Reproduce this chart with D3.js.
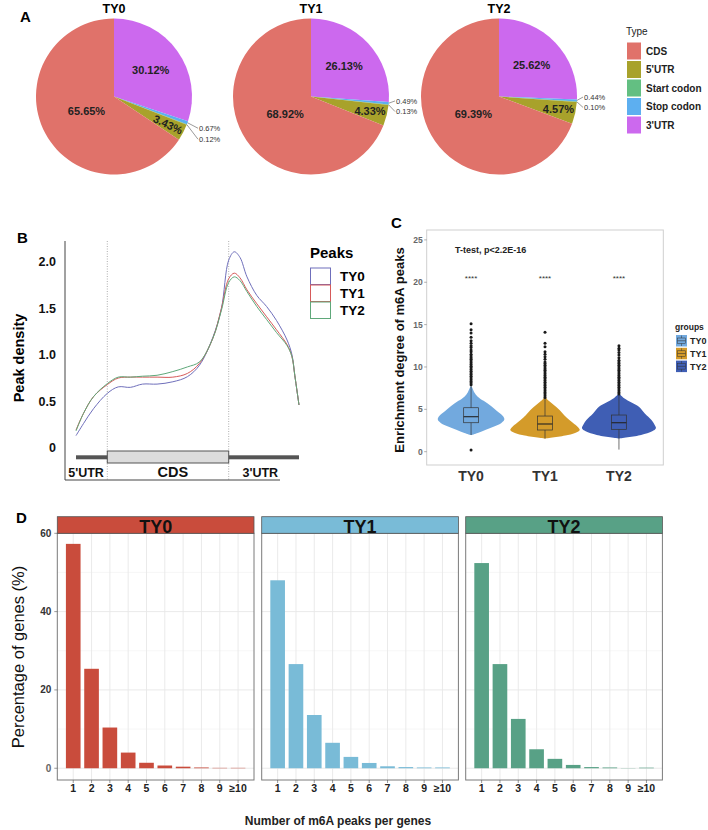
<!DOCTYPE html>
<html>
<head>
<meta charset="utf-8">
<script src="https://cdn.jsdelivr.net/npm/d3@7"></script>
<style>
body { margin: 0; background: #fff; }
svg { display: block; font-family: "Liberation Sans", Arial, sans-serif; }
</style>
</head>
<body>
<svg width="708" height="830"></svg>
<script>
// ---- panel A: peak distribution over transcript features
var pieGroups = ["TY0", "TY1", "TY2"];
var pieTypes = ["CDS", "5'UTR", "Start codon", "Stop codon", "3'UTR"];
var pieColors = ["#e0726a", "#a8a22b", "#63bf82", "#5daff0", "#cc69ee"];
var pieTY0 = [65.65, 3.43, 0.12, 0.67, 30.12];
var pieTY1 = [68.92, 4.33, 0.13, 0.49, 26.13];
var pieTY2 = [69.39, 4.57, 0.10, 0.44, 25.62];

// ---- panel B: metagene density (0-1 5'UTR, 1-2 CDS, 2-3 3'UTR)
var peakSeries = ["TY0", "TY1", "TY2"];
var peakColors = ["#6f6fbb", "#d65a5a", "#5fa87a"];
var metaPos = [0, 0.24, 0.56, 1.0, 1.09, 1.19, 1.29, 1.41, 1.54, 1.66, 1.76, 1.87, 1.94,
               2.0, 2.08, 2.16, 2.26, 2.40, 2.54, 2.68, 2.83, 2.90, 2.94, 3.0];
var densTY0 = [0.13, 0.26, 0.42, 0.585, 0.655, 0.65, 0.685, 0.685, 0.71, 0.765, 0.89, 1.19, 1.50,
               2.02, 2.11, 2.05, 1.84, 1.64, 1.52, 1.37, 1.16, 1.00, 0.78, 0.46];
var densTY1 = [0.19, 0.37, 0.55, 0.68, 0.75, 0.76, 0.76, 0.76, 0.76, 0.80, 0.91, 1.18, 1.50,
               1.82, 1.88, 1.83, 1.70, 1.55, 1.41, 1.27, 1.11, 0.98, 0.78, 0.46];
var densTY2 = [0.18, 0.37, 0.55, 0.69, 0.76, 0.76, 0.77, 0.78, 0.82, 0.87, 0.925, 1.18, 1.48,
               1.78, 1.84, 1.80, 1.68, 1.52, 1.38, 1.24, 1.10, 0.98, 0.78, 0.46];
var regionNames = ["5'UTR", "CDS", "3'UTR"];

// ---- panel C: enrichment violins  ([value, half width as share of group step])
var violinGroups = ["TY0", "TY1", "TY2"];
var violinColors = ["#72a9de", "#d49b2a", "#3f5eb4"];
var violinTY0 = [[1.95, 0], [2.2, 0.09], [2.6, 0.2], [3.0, 0.32], [3.4, 0.41], [3.8, 0.45], [4.2, 0.43],
                 [4.8, 0.35], [5.4, 0.27], [6.0, 0.17], [6.5, 0.09], [7.0, 0.045], [7.7, 0.01]];
var violinTY1 = [[1.55, 0], [1.97, 0.31], [2.3, 0.43], [2.56, 0.47], [2.95, 0.44], [3.4, 0.38],
                 [3.74, 0.33], [4.3, 0.26], [4.9, 0.2], [5.5, 0.12], [6.0, 0.05], [6.4, 0.01]];
var violinTY2 = [[1.55, 0], [1.97, 0.3], [2.4, 0.45], [2.76, 0.5], [3.2, 0.48], [3.74, 0.44],
                 [4.5, 0.35], [5.3, 0.27], [5.8, 0.17], [6.3, 0.07], [6.8, 0.01]];
var boxLow = [1.97, 1.55, 0.25];
var boxQ1 = [3.42, 2.56, 2.64];
var boxMed = [4.13, 3.27, 3.42];
var boxQ3 = [5.19, 4.21, 4.33];
var boxHigh = [7.8, 6.35, 6.75];
var outTY0 = [0.2, 7.9, 8.1, 8.3, 8.5, 8.7, 8.9, 9.1, 9.3, 9.5, 9.7, 9.9, 10.1, 10.3, 10.5, 10.7, 10.9,
              11.1, 11.3, 11.5, 11.8, 12.0, 12.3, 12.5, 12.8, 13.1, 13.5, 14.0, 14.4, 15.1];
var outTY1 = [6.4, 6.6, 6.8, 7.0, 7.2, 7.4, 7.6, 7.8, 8.0, 8.2, 8.4, 8.6, 8.8, 9.0, 9.2, 9.4, 9.6, 9.8,
              10.0, 10.2, 10.4, 10.6, 10.9, 11.2, 11.5, 11.8, 12.4, 12.8, 14.1];
var outTY2 = [6.8, 7.0, 7.2, 7.4, 7.6, 7.8, 8.0, 8.2, 8.4, 8.6, 8.8, 9.0, 9.2, 9.4, 9.6, 9.8, 10.0,
              10.2, 10.4, 10.6, 10.8, 11.1, 11.4, 11.7, 12.0, 12.2, 12.5];
var cTicks = [0, 5, 10, 15, 20, 25];

// ---- panel D: number of peaks per gene
var peakCats = ["1", "2", "3", "4", "5", "6", "7", "8", "9", "\u226510"];
var facetNames = ["TY0", "TY1", "TY2"];
var facetColors = ["#c94c3c", "#79bbd7", "#58a186"];
var pctTY0 = [57.3, 25.4, 10.4, 4.0, 1.4, 0.7, 0.4, 0.2, 0.1, 0.1];
var pctTY1 = [48.0, 26.6, 13.6, 6.5, 2.9, 1.35, 0.5, 0.3, 0.2, 0.2];
var pctTY2 = [52.4, 26.6, 12.6, 4.85, 2.4, 0.85, 0.3, 0.2, 0.05, 0.15];
var dTicks = [0, 20, 40, 60];

var svg = d3.select("svg");

function panelLabel(t, x, y) {
  svg.append("text").attr("x", x).attr("y", y)
    .attr("font-size", 15).attr("font-weight", "bold").text(t);
}

// ================= A =================
panelLabel("A", 20, 22);
var pieData = [pieTY0, pieTY1, pieTY2];
var pieCx = [114, 311, 499], pieCy = 96.5, pieR = 78;
var pie = d3.pie().sort(null).value(function(d) { return d.value; });
var arc = d3.arc().innerRadius(0).outerRadius(pieR);

pieGroups.forEach(function(g, gi) {
  // ggplot polar order: last level starts at 12 o'clock going clockwise
  var slices = pieTypes.map(function(t, i) {
    return {type: t, value: pieData[gi][i], color: pieColors[i]};
  }).reverse();
  var arcs = pie(slices);
  var gg = svg.append("g").attr("transform", "translate(" + pieCx[gi] + "," + pieCy + ")");

  gg.selectAll("path").data(arcs).enter().append("path")
    .attr("d", arc)
    .attr("fill", function(d) { return d.data.color; });

  svg.append("text").attr("x", pieCx[gi]).attr("y", 13)
    .attr("text-anchor", "middle").attr("font-size", 12.5).attr("font-weight", "bold").text(g);

  var labelR = {"CDS": 0.4, "5'UTR": 0.78, "3'UTR": 0.58};
  arcs.filter(function(d) { return d.data.value >= 1; }).forEach(function(d) {
    var a = (d.startAngle + d.endAngle) / 2, rr = pieR * labelR[d.data.type];
    var x = Math.sin(a) * rr, y = -Math.cos(a) * rr;
    gg.append("text")
      .attr("transform", "translate(" + x + "," + y + ")" + (d.data.value < 4 ? " rotate(25)" : ""))
      .attr("dy", "0.35em").attr("text-anchor", "middle")
      .attr("font-size", 11).attr("font-weight", "bold").attr("fill", "#222")
      .text(d.data.value.toFixed(2) + "%");
  });

  arcs.filter(function(d) { return d.data.value < 1; }).forEach(function(d, k) {
    var a = (d.startAngle + d.endAngle) / 2;
    var px = Math.sin(a) * pieR, py = -Math.cos(a) * pieR;
    var lx = pieR + 7, ly = py * 1.4 - 5 + k * 8.5;
    gg.append("line").attr("x1", px).attr("y1", py).attr("x2", lx - 1).attr("y2", ly)
      .attr("stroke", "#555").attr("stroke-width", 0.6);
    gg.append("text").attr("x", lx).attr("y", ly).attr("dy", "0.35em")
      .attr("font-size", 7.5).attr("fill", "#333")
      .text(d.data.value.toFixed(2) + "%");
  });
});

var legA = svg.append("g").attr("transform", "translate(626,0)");
legA.append("text").attr("x", 0).attr("y", 35).attr("font-size", 10).attr("fill", "#222").text("Type");
pieTypes.forEach(function(t, i) {
  var cy = 51 + i * 18.5;
  legA.append("rect").attr("x", 1).attr("y", cy - 8.5).attr("width", 14).attr("height", 17)
    .attr("fill", pieColors[i]);
  legA.append("text").attr("x", 20).attr("y", cy).attr("dy", "0.35em")
    .attr("font-size", 10).attr("font-weight", "bold").attr("fill", "#222").text(t);
});

// ================= B =================
panelLabel("B", 17, 243);
var bx = d3.scaleLinear().domain([0, 1, 2, 3]).range([76, 107.3, 228.7, 299]);
var by = d3.scaleLinear().domain([0, 2]).range([447.7, 262]);
var bTop = 241, bBottom = 480, bLeft = 65;

[1, 2].forEach(function(v) {
  svg.append("line").attr("x1", bx(v)).attr("x2", bx(v)).attr("y1", bTop).attr("y2", bBottom)
    .attr("stroke", "#999").attr("stroke-width", 0.8).attr("stroke-dasharray", "1,1.5");
});
svg.append("line").attr("x1", bLeft).attr("x2", bLeft).attr("y1", bTop).attr("y2", bBottom)
  .attr("stroke", "#444").attr("stroke-width", 1);
svg.append("line").attr("x1", bLeft).attr("x2", 280).attr("y1", bBottom).attr("y2", bBottom)
  .attr("stroke", "#444").attr("stroke-width", 1);

[0, 0.5, 1.0, 1.5, 2.0].forEach(function(t) {
  svg.append("text").attr("x", 56).attr("y", by(t)).attr("dy", "0.35em")
    .attr("text-anchor", "end").attr("font-size", 12.5).attr("font-weight", "bold").attr("fill", "#111")
    .text(t === 0 ? "0" : t.toFixed(1));
});
svg.append("text").attr("transform", "translate(24,358) rotate(-90)")
  .attr("text-anchor", "middle").attr("font-size", 14.5).attr("font-weight", "bold").text("Peak density");

var bLine = d3.line()
  .curve(d3.curveCatmullRom.alpha(0.5))
  .x(function(d, i) { return bx(metaPos[i]); })
  .y(function(d) { return by(d); });
[densTY0, densTY1, densTY2].forEach(function(s, i) {
  svg.append("path").datum(s)
    .attr("fill", "none").attr("stroke", peakColors[i]).attr("stroke-width", 1)
    .attr("d", bLine);
});

// gene model
svg.append("rect").attr("x", bx(0)).attr("y", 455.3).attr("width", bx(3) - bx(0)).attr("height", 4)
  .attr("fill", "#555");
svg.append("rect").attr("x", bx(1)).attr("y", 451).attr("width", bx(2) - bx(1)).attr("height", 12)
  .attr("fill", "#dcdcdc").attr("stroke", "#555").attr("stroke-width", 1);
var regionAt = [0.32, 1.54, 2.45];
regionNames.forEach(function(n, i) {
  svg.append("text").attr("x", bx(regionAt[i])).attr("y", 477)
    .attr("text-anchor", "middle").attr("font-weight", "bold")
    .attr("font-size", n === "CDS" ? 14.5 : 12.5).attr("fill", "#111").text(n);
});

var legB = svg.append("g").attr("transform", "translate(310,0)");
legB.append("text").attr("x", 0).attr("y", 258).attr("font-size", 15).attr("font-weight", "bold").text("Peaks");
peakSeries.forEach(function(s, i) {
  var y0 = 268 + i * 17;
  legB.append("rect").attr("x", 0.5).attr("y", y0).attr("width", 20).attr("height", 16.5)
    .attr("fill", "#fff").attr("stroke", peakColors[i]).attr("stroke-width", 1);
  legB.append("text").attr("x", 30).attr("y", y0 + 8.5).attr("dy", "0.35em")
    .attr("font-size", 13.5).attr("font-weight", "bold").text(s);
});

// ================= C =================
panelLabel("C", 391, 228);
var cLeft = 426.7, cRight = 663.3, cTop = 230, cBottom = 465;
var cx = d3.scalePoint().domain(violinGroups).range([cLeft, cRight]).padding(0.6);
var cy = d3.scaleLinear().domain([0, 25]).range([451.7, 239.9]);
var cStep = cx.step();

svg.append("rect").attr("x", cLeft).attr("y", cTop).attr("width", cRight - cLeft).attr("height", cBottom - cTop)
  .attr("fill", "#fff").attr("stroke", "#cfcfcf").attr("stroke-width", 1);

cTicks.forEach(function(t) {
  svg.append("line").attr("x1", cLeft - 2.5).attr("x2", cLeft).attr("y1", cy(t)).attr("y2", cy(t))
    .attr("stroke", "#777").attr("stroke-width", 0.6);
  svg.append("text").attr("x", cLeft - 4).attr("y", cy(t)).attr("dy", "0.35em")
    .attr("text-anchor", "end").attr("font-size", 8.5).attr("font-weight", "bold").attr("fill", "#666").text(t);
});
svg.append("text").attr("transform", "translate(404,350) rotate(-90)")
  .attr("text-anchor", "middle").attr("font-size", 13).attr("font-weight", "bold").attr("fill", "#111")
  .text("Enrichment degree of m6A peaks");

var violins = [violinTY0, violinTY1, violinTY2];
var outliers = [outTY0, outTY1, outTY2];
violinGroups.forEach(function(g, i) {
  var xc = cx(g);
  var area = d3.area()
    .curve(d3.curveCatmullRom.alpha(0.5))
    .y(function(d) { return cy(d[0]); })
    .x0(function(d) { return xc - d[1] * cStep; })
    .x1(function(d) { return xc + d[1] * cStep; });
  svg.append("path").datum(violins[i]).attr("d", area).attr("fill", violinColors[i]);

  svg.append("line").attr("x1", xc).attr("x2", xc).attr("y1", cy(boxLow[i])).attr("y2", cy(boxHigh[i]))
    .attr("stroke", "#333").attr("stroke-width", 0.7);
  svg.append("rect").attr("x", xc - 0.1 * cStep).attr("width", 0.2 * cStep)
    .attr("y", cy(boxQ3[i])).attr("height", cy(boxQ1[i]) - cy(boxQ3[i]))
    .attr("fill", violinColors[i]).attr("stroke", "#333").attr("stroke-width", 0.7);
  svg.append("line").attr("x1", xc - 0.1 * cStep).attr("x2", xc + 0.1 * cStep)
    .attr("y1", cy(boxMed[i])).attr("y2", cy(boxMed[i]))
    .attr("stroke", "#222").attr("stroke-width", 1.1);

  svg.selectAll(null).data(outliers[i]).enter().append("circle")
    .attr("cx", xc).attr("cy", function(d) { return cy(d); }).attr("r", 1.5).attr("fill", "#1a1a1a");

  svg.append("text").attr("x", xc).attr("y", cy(20.5)).attr("dy", "0.35em")
    .attr("text-anchor", "middle").attr("font-size", 8).attr("fill", "#333").text("****");

  svg.append("text").attr("x", xc).attr("y", 481)
    .attr("text-anchor", "middle").attr("font-size", 14).attr("font-weight", "bold").attr("fill", "#333").text(g);
});
svg.append("text").attr("x", 455).attr("y", cy(23.8)).attr("dy", "0.35em")
  .attr("font-size", 9).attr("font-weight", "bold").attr("fill", "#222").text("T-test, p<2.2E-16");

var legC = svg.append("g").attr("transform", "translate(675,0)");
legC.append("text").attr("x", 0).attr("y", 330).attr("font-size", 8.5).attr("font-weight", "bold")
  .attr("fill", "#222").text("groups");
violinGroups.forEach(function(g, i) {
  var y0 = 335 + i * 12.8;
  legC.append("rect").attr("x", 1).attr("y", y0).attr("width", 11).attr("height", 11.5).attr("fill", violinColors[i]);
  legC.append("line").attr("x1", 6.5).attr("x2", 6.5).attr("y1", y0 + 0.5).attr("y2", y0 + 11)
    .attr("stroke", "#333").attr("stroke-width", 0.5);
  legC.append("rect").attr("x", 2.5).attr("y", y0 + 3).attr("width", 8).attr("height", 5.5)
    .attr("fill", violinColors[i]).attr("stroke", "#333").attr("stroke-width", 0.5);
  legC.append("line").attr("x1", 2.5).attr("x2", 10.5).attr("y1", y0 + 5.75).attr("y2", y0 + 5.75)
    .attr("stroke", "#333").attr("stroke-width", 0.6);
  legC.append("text").attr("x", 15).attr("y", y0 + 6).attr("dy", "0.35em")
    .attr("font-size", 9).attr("font-weight", "bold").attr("fill", "#222").text(g);
});

// ================= D =================
panelLabel("D", 16, 523);
var pcts = [pctTY0, pctTY1, pctTY2];
var dLefts = [57.3, 261.7, 465.7], dWidth = 196.7;
var dStripTop = 516.7, dTop = 533.3, dBottom = 780;
var dy = d3.scaleLinear().domain([-3, 60]).range([dBottom, dTop]);

facetNames.forEach(function(f, fi) {
  var left = dLefts[fi];
  var dx = d3.scaleBand().domain(peakCats).range([left, left + dWidth])
    .paddingInner(0.2).paddingOuter(0.47);
  var g = svg.append("g");

  [10, 30, 50].forEach(function(t) {
    g.append("line").attr("x1", left).attr("x2", left + dWidth).attr("y1", dy(t)).attr("y2", dy(t))
      .attr("stroke", "#f2f2f2").attr("stroke-width", 0.6);
  });
  dTicks.forEach(function(t) {
    g.append("line").attr("x1", left).attr("x2", left + dWidth).attr("y1", dy(t)).attr("y2", dy(t))
      .attr("stroke", "#e6e6e6").attr("stroke-width", 0.9);
  });
  peakCats.forEach(function(c) {
    var xm = dx(c) + dx.bandwidth() / 2;
    g.append("line").attr("x1", xm).attr("x2", xm).attr("y1", dTop).attr("y2", dBottom)
      .attr("stroke", "#e8e8e8").attr("stroke-width", 0.9);
  });

  g.selectAll("rect.bar").data(pcts[fi]).enter().append("rect")
    .attr("class", "bar")
    .attr("x", function(d, i) { return dx(peakCats[i]); })
    .attr("width", dx.bandwidth())
    .attr("y", function(d) { return dy(d); })
    .attr("height", function(d) { return dy(0) - dy(d); })
    .attr("fill", facetColors[fi]);

  g.append("rect").attr("x", left).attr("y", dTop).attr("width", dWidth).attr("height", dBottom - dTop)
    .attr("fill", "none").attr("stroke", "#7a7a7a").attr("stroke-width", 1);
  g.append("rect").attr("x", left).attr("y", dStripTop).attr("width", dWidth).attr("height", dTop - dStripTop)
    .attr("fill", facetColors[fi]).attr("stroke", "#555").attr("stroke-width", 0.8);
  g.append("text").attr("x", left + dWidth / 2).attr("y", dTop - 0.5)
    .attr("text-anchor", "middle").attr("font-size", 18).attr("font-weight", "bold").attr("fill", "#111").text(f);

  peakCats.forEach(function(c) {
    var xm = dx(c) + dx.bandwidth() / 2;
    g.append("line").attr("x1", xm).attr("x2", xm).attr("y1", dBottom).attr("y2", dBottom + 3)
      .attr("stroke", "#555").attr("stroke-width", 0.6);
    g.append("text").attr("x", xm).attr("y", 792)
      .attr("text-anchor", "middle").attr("font-size", 10.5).attr("font-weight", "bold").attr("fill", "#222").text(c);
  });

  if (fi === 0) {
    dTicks.forEach(function(t) {
      g.append("line").attr("x1", left - 3).attr("x2", left).attr("y1", dy(t)).attr("y2", dy(t))
        .attr("stroke", "#555").attr("stroke-width", 0.6);
      g.append("text").attr("x", left - 6).attr("y", dy(t)).attr("dy", "0.35em")
        .attr("text-anchor", "end").attr("font-size", 10).attr("font-weight", "bold")
        .attr("fill", t === 0 ? "#666" : "#333").text(t);
    });
  }
});

svg.append("text").attr("transform", "translate(24,657) rotate(-90)")
  .attr("text-anchor", "middle").attr("font-size", 16.5).attr("fill", "#111").text("Percentage of genes (%)");
svg.append("text").attr("x", 338).attr("y", 825)
  .attr("text-anchor", "middle").attr("font-size", 12).attr("font-weight", "bold").attr("fill", "#222")
  .text("Number of m6A peaks per genes");
</script>
</body>
</html>
